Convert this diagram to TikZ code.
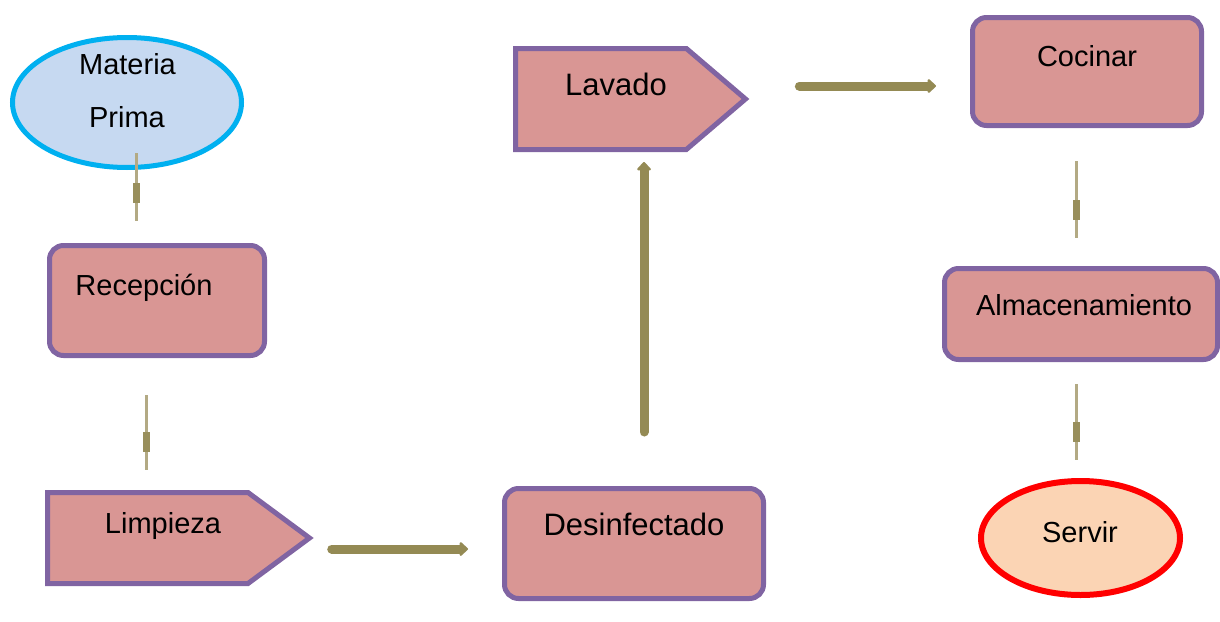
\documentclass[tikz,border=0pt]{standalone}
\usepackage{fontspec}
\setmainfont{Liberation Sans}
\usetikzlibrary{shapes.geometric,shapes.symbols,arrows.meta}

\definecolor{boxfill}{HTML}{D99694}
\definecolor{boxline}{HTML}{8064A2}
\definecolor{startfill}{HTML}{C6D9F1}
\definecolor{startline}{HTML}{00B0F0}
\definecolor{endfill}{HTML}{FBD4B4}
\definecolor{endline}{HTML}{FF0000}
\definecolor{flowc}{HTML}{948A54}
\definecolor{linkc}{HTML}{B3AA84}
\definecolor{linkdark}{HTML}{998F5C}

\tikzset{
  stepbox/.style={draw=boxline, fill=boxfill, line width=5pt, rounded corners=14pt, inner sep=0pt},
  tagbox/.style={draw=boxline, fill=boxfill, line width=5pt, signal, signal to=east, inner sep=0pt, anchor=west},
  txt/.style={font=\fontsize{29}{34}\selectfont, anchor=base, inner sep=0pt},
  bigtxt/.style={font=\fontsize{31}{36}\selectfont, anchor=base, inner sep=0pt},
  flow/.style={draw=flowc, line width=9pt, line cap=round, -{Triangle[width=16pt,length=9pt,round]}},
  thinlink/.style={draw=linkc, line width=3pt, postaction={draw=linkdark, line width=7pt, shorten <=#1, shorten >=18pt}}
}

\begin{document}
\begin{tikzpicture}[x=1pt, y=-1pt]

    \useasboundingbox (0,0) rectangle (1220,621);

    % Left column
    \node[ellipse, draw=startline, fill=startfill, line width=5pt, minimum width=229pt, minimum height=130pt, inner sep=0pt] (mp) at (127,102.5) {};
    \node[txt] (tmp1) at (127.5,74) {Materia};
    \node[txt] (tmp2) at (127,127) {Prima};

    \node[stepbox, minimum width=215pt, minimum height=110pt] (rec) at (157,300.5) {};
    \node[txt] (trec) at (144,295) {Recepción};

    \node[tagbox, minimum width=262pt, minimum height=91pt, signal pointer angle=73] (lim) at (45,538) {};
    \node[txt] (tlim) at (163,533) {Limpieza};

    % Middle column
    \node[stepbox, minimum width=259pt, minimum height=110pt] (des) at (634,543.5) {};
    \node[bigtxt] (tdes) at (634,535) {Desinfectado};

    \node[tagbox, minimum width=230pt, minimum height=101pt, signal pointer angle=81] (lav) at (513,99) {};
    \node[bigtxt] (tlav) at (616,95) {Lavado};

    % Right column
    \node[stepbox, minimum width=229pt, minimum height=108pt] (coc) at (1087,71.5) {};
    \node[txt] (tcoc) at (1087,66) {Cocinar};

    \node[stepbox, minimum width=273pt, minimum height=91pt] (alm) at (1081,314) {};
    \node[txt] (talm) at (1084,315) {Almacenamiento};

    \node[ellipse, draw=endline, fill=endfill, line width=6pt, minimum width=199pt, minimum height=114pt, inner sep=0pt] (srv) at (1080.5,538) {};
    \node[txt] (tsrv) at (1080,542) {Servir};

    % Thin links
    \draw[thinlink=30pt] ([shift={(9,-17)}]mp.south) -- ([shift={(-21,-22)}]rec.north);
    \draw[thinlink=37pt] ([shift={(-11,37)}]rec.south) -- ([shift={(101,-68)}]lim.west);
    \draw[thinlink=39pt] ([shift={(-11,33)}]coc.south) -- ([shift={(-5,-28)}]alm.north);
    \draw[thinlink=38pt] ([shift={(-5,22)}]alm.south) -- ([shift={(-4.5,-18)}]srv.north);

    % Thick arrows
    \draw[flow] ([shift={(18,11)}]lim.east) -- ([shift={(-34,5.5)}]des.west);
    \draw[flow] ([shift={(10,-54)}]des.north) -- ([shift={(131,63)}]lav.west);
    \draw[flow] ([shift={(50,-13)}]lav.east) -- ([shift={(-34,14.5)}]coc.west);

\end{tikzpicture}
\end{document}
